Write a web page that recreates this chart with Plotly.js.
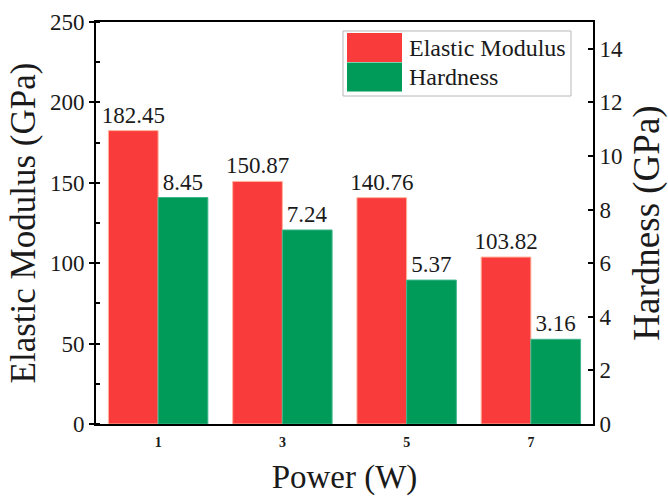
<!DOCTYPE html>
<html>
<head>
<meta charset="utf-8">
<script src="https://cdn.plot.ly/plotly-3.0.1.min.js"></script>
<style>
  html, body { margin: 0; padding: 0; background: #ffffff; }
  #chart { width: 668px; height: 496px; }
</style>
</head>
<body>
<div id="chart"></div>
<script>
// Deposition power levels (W)
const powers = ['1', '3', '5', '7'];
// Elastic modulus (GPa), left axis
const modulus = [182.45, 150.87, 140.76, 103.82];
// Hardness (GPa), right axis
const hardness = [8.45, 7.24, 5.37, 3.16];
const seriesNames = ['Elastic Modulus', 'Hardness'];

const RED = '#FA3B3B';
const GREEN = '#009B58';
const SERIF = 'Liberation Serif';
const INK = '#1a1a1a';

const traces = [
  {
    type: 'bar', name: seriesNames[0], x: powers, y: modulus,
    yaxis: 'y', width: 0.4, offset: -0.4,
    marker: { color: RED, line: { color: '#FFB49C', width: 1 } },
    text: modulus.map(v => v.toFixed(2)), textposition: 'outside',
    constraintext: 'none',
    textfont: { family: SERIF, size: 23, color: INK },
    cliponaxis: false, showlegend: false
  },
  {
    type: 'bar', name: seriesNames[1], x: powers, y: hardness,
    yaxis: 'y2', width: 0.4, offset: 0,
    marker: { color: GREEN, line: { color: '#3FB58C', width: 1 } },
    text: hardness.map(v => v.toFixed(2)), textposition: 'outside',
    constraintext: 'none',
    textfont: { family: SERIF, size: 23, color: INK },
    cliponaxis: false, showlegend: false
  }
];

// Legend drawn as swatch rectangles plus labels in the upper right
const legendShapes = [];
const legendNotes = [];
const swatchColors = [RED, GREEN];
const legX0 = 347, legTop = 33, rowH = 29.5;
const px = (x) => (x - 96) / (593 - 96);
const py = (y) => 1 - (y - 22) / (424 - 22);
legendShapes.push({
  type: 'rect', xref: 'paper', yref: 'paper',
  x0: px(343), x1: px(571), y0: py(96), y1: py(31),
  line: { color: '#b8b8b8', width: 1 }, fillcolor: 'rgba(255,255,255,0)'
});
seriesNames.forEach((name, i) => {
  const y0 = legTop + i * rowH;
  legendShapes.push({
    type: 'rect', xref: 'paper', yref: 'paper',
    x0: px(legX0), x1: px(legX0 + 55), y0: py(y0 + rowH - 0.5), y1: py(y0),
    line: { width: 0 }, fillcolor: swatchColors[i]
  });
  legendNotes.push({
    xref: 'paper', yref: 'paper', x: px(legX0 + 60), y: py(y0 + rowH / 2),
    xanchor: 'left', yanchor: 'middle', showarrow: false, text: name,
    font: { family: SERIF, size: 24, color: INK }
  });
});

const layout = {
  width: 668, height: 496,
  margin: { l: 96, r: 75, t: 22, b: 72 },
  paper_bgcolor: '#ffffff', plot_bgcolor: '#ffffff',
  showlegend: false,
  font: { family: SERIF, color: INK },
  xaxis: {
    type: 'category', range: [-0.5, 3.5],
    showline: true, linecolor: '#000', linewidth: 2, mirror: true,
    ticks: '', showgrid: false, zeroline: false,
    ticklabelstandoff: 4,
    tickfont: { family: SERIF, size: 14, color: INK, weight: 'bold' },
    title: { text: 'Power (W)', font: { family: SERIF, size: 33, color: INK }, standoff: 22 }
  },
  yaxis: {
    range: [0, 250], tick0: 0, dtick: 50,
    showline: true, linecolor: '#000', linewidth: 2,
    ticks: 'outside', ticklen: 5, tickwidth: 2, tickcolor: '#000',
    minor: { ticks: 'inside', ticklen: 4, tickwidth: 2, dtick: 25, tickcolor: '#000' },
    showgrid: false, zeroline: false,
    tickfont: { family: SERIF, size: 23, color: INK },
    title: { text: 'Elastic Modulus (GPa)', font: { family: SERIF, size: 35, color: INK }, standoff: 4 }
  },
  yaxis2: {
    overlaying: 'y', side: 'right',
    range: [0, 15], tick0: 0, dtick: 2,
    showline: true, linecolor: '#000', linewidth: 2,
    ticks: 'inside', ticklen: 5, tickwidth: 2, tickcolor: '#000',
    showgrid: false, zeroline: false,
    tickfont: { family: SERIF, size: 23, color: INK },
    title: { text: 'Hardness (GPa)', font: { family: SERIF, size: 37, color: INK }, standoff: 12 }
  },
  shapes: legendShapes,
  annotations: legendNotes
};

Plotly.newPlot('chart', traces, layout, { displayModeBar: false, staticPlot: true });
</script>
</body>
</html>
